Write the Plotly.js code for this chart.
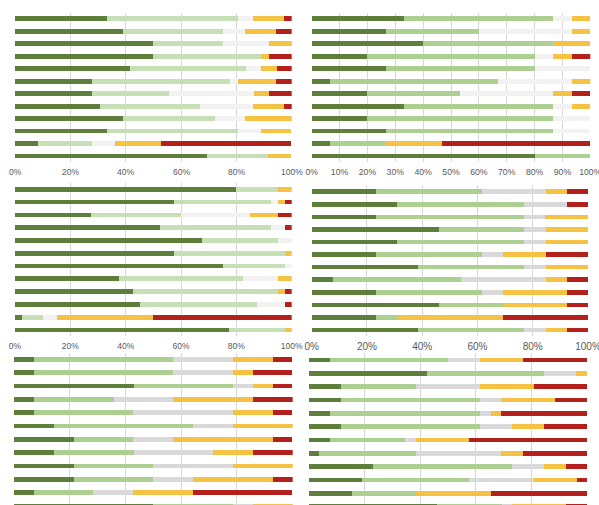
<!DOCTYPE html>
<html>
<head>
<meta charset="utf-8">
<script src="https://cdn.plot.ly/plotly-3.0.1.min.js"></script>
<style>html,body{margin:0;padding:0;background:#fff;}#chart{width:599px;height:505px;}</style>
</head>
<body>
<div id="chart"></div>
<script>
// ---- DATA (percent of respondents per answer, 12 items per panel) ----
const rows = ["Item 1","Item 2","Item 3","Item 4","Item 5","Item 6","Item 7","Item 8","Item 9","Item 10","Item 11","Item 12"];
const segmentNames = ["Very good","Good","Neutral","Poor","Very poor"];
const tickPct = ["0%","10%","20%","30%","40%","50%","60%","70%","80%","90%","100%"];

// Panel A (top left)
const aVeryGood = [33.3,38.9,50,50,41.7,27.8,27.8,30.6,38.9,33.3,8.3,69.4];
const aGood     = [47.2,36.1,25,38.9,41.7,50,27.8,36.1,33.3,47.2,19.4,22.2];
const aNeutral  = [5.6,8.3,16.7,0,5.6,2.8,30.6,19.4,11.1,8.3,8.3,0];
const aPoor     = [11.1,11.1,8.3,2.8,5.6,13.9,5.6,11.1,16.7,11.1,16.7,8.3];
const aVeryPoor = [2.8,5.6,0,8.3,5.6,5.6,8.3,2.8,0,0,47.2,0];

// Panel B (top right)
const bVeryGood = [33.3,26.7,40,20,26.7,6.7,20,33.3,20,26.7,6.7,80];
const bGood     = [53.3,33.3,46.7,60,53.3,60,33.3,53.3,66.7,60,20,20];
const bNeutral  = [6.7,33.3,0,6.7,20,26.7,33.3,6.7,13.3,13.3,0,0];
const bPoor     = [6.7,6.7,13.3,6.7,0,6.7,6.7,6.7,0,0,20,0];
const bVeryPoor = [0,0,0,6.7,0,0,6.7,0,0,0,53.3,0];

// Panel C (middle left)
const cVeryGood = [80,57.5,27.5,52.5,67.5,57.5,75,37.5,42.5,45,2.5,77.5];
const cGood     = [15,35,32.5,40,27.5,40,22.5,45,52.5,42.5,7.5,20];
const cNeutral  = [0,2.5,25,5,5,0,2.5,12.5,0,10,5,0];
const cPoor     = [5,2.5,10,0,0,2.5,0,5,2.5,0,35,2.5];
const cVeryPoor = [0,2.5,5,2.5,0,0,0,0,2.5,2.5,50,0];

// Panel D (middle right)
const dVeryGood = [23.1,30.8,23.1,46.2,30.8,23.1,38.5,7.7,23.1,46.2,23.1,38.5];
const dGood     = [38.5,46.2,53.8,30.8,46.2,38.5,38.5,46.2,38.5,23.1,7.7,38.5];
const dNeutral  = [23.1,15.4,7.7,7.7,7.7,7.7,7.7,30.8,7.7,0,0,7.7];
const dPoor     = [7.7,0,15.4,15.4,15.4,15.4,15.4,7.7,23.1,23.1,38.5,7.7];
const dVeryPoor = [7.7,7.7,0,0,0,15.4,0,7.7,7.7,7.7,30.8,7.7];

// Panel E (bottom left)
const eVeryGood = [7.1,7.1,42.9,7.1,7.1,14.3,21.4,14.3,21.4,21.4,7.1,50];
const eGood     = [50,50,35.7,28.6,35.7,50,21.4,28.6,28.6,28.6,21.4,28.6];
const eNeutral  = [21.4,21.4,7.1,21.4,35.7,14.3,14.3,28.6,28.6,14.3,14.3,7.1];
const ePoor     = [14.3,7.1,7.1,28.6,14.3,21.4,35.7,14.3,21.4,28.6,21.4,14.3];
const eVeryPoor = [7.1,14.3,7.1,14.3,7.1,0,7.1,14.3,0,7.1,35.7,0];

// Panel F (bottom right)
const fVeryGood = [7.7,42.3,11.5,11.5,7.7,11.5,7.7,3.8,23.1,19.2,15.4,46.2];
const fGood     = [42.3,42.3,26.9,50,53.8,50,26.9,34.6,50,38.5,23.1,23.1];
const fNeutral  = [11.5,11.5,23.1,7.7,3.8,11.5,3.8,30.8,11.5,23.1,0,3.8];
const fPoor     = [15.4,3.8,19.2,19.2,3.8,11.5,19.2,7.7,7.7,15.4,26.9,19.2];
const fVeryPoor = [23.1,0,19.2,11.5,30.8,15.4,42.3,23.1,7.7,3.8,34.6,7.7];

// ---- STYLE / LAYOUT ----
const W = 599, H = 505;
const DARK = "#5e7f3b", PALE = "#c7dfb6", LIGHT = "#adcf91", GRAY1 = "#f2f2f2", GRAY2 = "#d9d9d9", YEL = "#f6c244", RED = "#b4211c";
const LABEL_FONT = "Liberation Sans, Arial, sans-serif";

// labels: "axis" = normal tick labels, "note" = tick labels drawn as axis-referenced annotations, false = none
const panels = [
  {series:[eVeryGood,eGood,eNeutral,ePoor,eVeryPoor], colors:[DARK,LIGHT,GRAY2,YEL,RED], px:[14,292.7], py:[352.7,505], yr:[10.92,-0.5], dt:20, fs:9, labels:false, bw:0.34},
  {series:[fVeryGood,fGood,fNeutral,fPoor,fVeryPoor], colors:[DARK,LIGHT,GRAY2,YEL,RED], px:[308.7,587.3], py:[353.3,505], yr:[10.88,-0.5], dt:20, fs:9, labels:false, bw:0.35},
  {series:[dVeryGood,dGood,dNeutral,dPoor,dVeryPoor], colors:[DARK,LIGHT,GRAY2,YEL,RED], px:[311.7,588], py:[185.4,336.3], yr:[11.5,-0.5], dt:20, fs:10, labels:"axis", bw:0.37},
  {series:[cVeryGood,cGood,cNeutral,cPoor,cVeryPoor], colors:[DARK,PALE,GRAY1,YEL,RED], px:[15,291.7], py:[182.9,336.4], yr:[11.5,-0.5], dt:20, fs:8.5, labels:"axis", bw:0.37},
  {series:[bVeryGood,bGood,bNeutral,bPoor,bVeryPoor], colors:[DARK,LIGHT,GRAY1,YEL,RED], px:[311.7,590.3], py:[12.5,162.3], yr:[11.5,-0.5], dt:10, fs:8.7, labels:"axis", bw:0.38},
  {series:[aVeryGood,aGood,aNeutral,aPoor,aVeryPoor], colors:[DARK,PALE,GRAY1,YEL,RED], px:[15,291.7], py:[12.5,162.3], yr:[11.5,-0.5], dt:20, fs:8.5, labels:"note", labelY:171.8, bw:0.38}
];

const data = [];
const annotations = [];
const layout = {
  width: W, height: H,
  margin: {l:0, r:0, t:0, b:0},
  paper_bgcolor: "#ffffff", plot_bgcolor: "rgba(0,0,0,0)",
  barmode: "stack",
  showlegend: false,
  font: {family: LABEL_FONT, color: "#595959"}
};

panels.forEach((p, i) => {
  const n = i === 0 ? "" : String(i + 1);
  const xa = "x" + n, ya = "y" + n;
  const tv = tickPct.map(t => parseFloat(t)).filter(v => v % p.dt === 0);
  const tt = tickPct.filter(t => parseFloat(t) % p.dt === 0);
  p.series.forEach((vals, k) => {
    data.push({
      type: "bar", orientation: "h",
      x: vals, y: rows, name: segmentNames[k],
      xaxis: xa, yaxis: ya,
      width: p.bw,
      marker: {color: p.colors[k], line: {width: 0}},
      hoverinfo: "skip"
    });
  });
  layout["xaxis" + n] = {
    domain: [p.px[0] / W, p.px[1] / W],
    anchor: ya,
    range: [0, 100],
    tickmode: "array", tickvals: tv, ticktext: tt,
    showgrid: true, gridcolor: "#d9d9d9", gridwidth: 1,
    zeroline: false, showline: false, ticks: "",
    showticklabels: p.labels === "axis",
    ticklabeloverflow: "allow",
    tickfont: {size: p.fs, color: "#595959"},
    ticklabelstandoff: 3,
    fixedrange: true
  };
  layout["yaxis" + n] = {
    domain: [1 - p.py[1] / H, 1 - p.py[0] / H],
    anchor: xa,
    type: "category",
    categoryorder: "array", categoryarray: rows,
    range: p.yr,
    showgrid: false, zeroline: false, showline: false,
    showticklabels: false, ticks: "",
    fixedrange: true
  };
  if (p.labels === "note") {
    tv.forEach((v, j) => {
      annotations.push({
        xref: xa, x: v, yref: "paper", y: 1 - p.labelY / H,
        xanchor: "center", yanchor: "middle",
        text: tt[j], showarrow: false, borderpad: 0,
        font: {family: LABEL_FONT, size: p.fs, color: "#595959"}
      });
    });
  }
});
layout.annotations = annotations;

Plotly.newPlot("chart", data, layout, {staticPlot: true, displayModeBar: false});
</script>
</body>
</html>
